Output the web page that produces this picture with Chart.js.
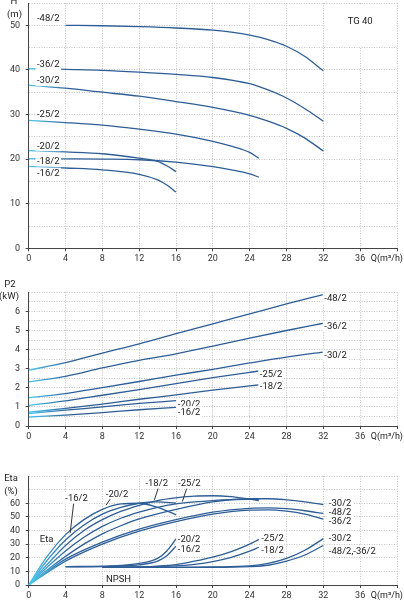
<!DOCTYPE html>
<html><head><meta charset="utf-8">
<script src="https://cdn.jsdelivr.net/npm/chart.js@4.4.0/dist/chart.umd.min.js"></script>
<style>
html,body{margin:0;padding:0;background:#fff;width:404px;height:600px;overflow:hidden;position:relative}
canvas{position:absolute;left:0}
</style></head><body>
<canvas id="c1" width="404" height="265" style="top:0;width:404px;height:265px"></canvas>
<canvas id="c2" width="404" height="170" style="top:280px;width:404px;height:170px"></canvas>
<canvas id="c3" width="404" height="150" style="top:450px;width:404px;height:150px"></canvas>
<script>
// ---------- DATA ----------
const qMin = 0, qMax = 40, qStep = 4;
const qAxisTitle = 'Q(m³/h)';

// H (m)
const h48Q = [4,8,12,16,20,24,26,28,30,32];
const h48  = [50.0,49.9,49.7,49.4,48.9,47.8,46.8,45.3,43.0,39.8];
const h36Q = [0,4,8,12,16,20,24,26,28,30,32];
const h36  = [40.3,40.1,39.9,39.5,39.0,38.3,36.9,35.5,33.7,31.3,28.5];
const h30Q = [0,4,8,12,16,20,24,26,28,30,32];
const h30  = [36.6,35.9,35.0,34.1,32.9,31.6,29.8,28.5,26.9,24.7,21.8];
const h25Q = [0,4,8,12,16,20,22,24,25];
const h25  = [28.7,28.2,27.6,26.7,25.6,24.0,22.9,21.5,20.2];
const h20Q = [0,4,8,12,14,15,16];
const h20  = [21.9,21.6,21.2,20.2,19.5,18.5,17.2];
const h18Q = [0,4,8,12,16,20,22,24,25];
const h18  = [20.1,20.05,20.0,19.85,19.3,18.3,17.6,16.7,15.95];
const h16Q = [0,4,8,12,14,15,16];
const h16  = [18.35,18.0,17.6,16.6,15.35,14.2,12.6];

// P2 (kW)
const p48Q = [0,4,8,12,16,20,24,28,32];
const p48  = [2.92,3.32,3.82,4.30,4.83,5.35,5.87,6.39,6.88];
const p36Q = [0,4,8,12,16,20,24,28,32];
const p36  = [2.31,2.60,3.04,3.44,3.78,4.18,4.60,5.00,5.38];
const p30Q = [0,4,8,12,16,20,24,28,32];
const p30  = [1.48,1.70,2.01,2.33,2.66,2.97,3.30,3.61,3.87];
const p25Q = [0,4,8,12,16,20,24,25];
const p25  = [1.08,1.32,1.61,1.91,2.22,2.53,2.81,2.88];
const p18Q = [0,4,8,12,16,20,24,25];
const p18  = [0.72,0.92,1.15,1.40,1.63,1.88,2.10,2.15];
const p20Q = [0,4,8,12,16];
const p20  = [0.65,0.83,1.00,1.18,1.33];
const p16Q = [0,4,8,12,16];
const p16  = [0.47,0.57,0.70,0.85,0.98];

// Eta (%)
const e16Q = [0,2,4,6,8,10,12,14,16];
const e16  = [0,21,37,48,55.5,59.5,60,57,51.5];
const e20Q = [0,2,4,6,8,10,12,14,16];
const e20  = [0,18,33,44,52,57,60,61,60];
const e18Q = [0,2,4,6,8,10,12,14,16,18,20,22,24,25];
const e18  = [0,15,29,40,48,54,58.5,62,64,65.3,65.5,64.8,63,62];
const e25Q = [0,2,4,6,8,10,12,14,16,18,20,22,24,25];
const e25  = [0,13,25,35,43,49,53.5,57,59.5,61,62,62.6,62.8,62.8];
const e30Q = [0,2,4,6,8,10,12,16,20,24,26,28,30,32];
const e30  = [0,11,21,30,37.5,43.5,48.5,55.5,61,63.3,63.3,62.5,61,59];
const e48Q = [0,4,8,12,16,20,24,26,28,30,32];
const e48  = [0,19,31.5,41,48,53.5,56.3,56.6,56,54.5,52.5];
const e36Q = [0,4,8,12,16,20,24,26,28,30,32];
const e36  = [0,17.5,30,39.5,46.5,52,55,55.2,54.2,52,48.3];

// NPSH (m)
const n20Q = [4,8,10,12,14,15,16];
const n20  = [13.5,13.8,14.3,15.8,19.5,25,33.8];
const n16Q = [4,8,10,12,14,15,16];
const n16  = [13.3,13.5,14,14.8,17.5,21.5,28.5];
const n25Q = [8,12,16,18,20,22,24,25];
const n25  = [13,13.3,15,17.5,20.5,24.5,30,33.5];
const n18Q = [8,12,16,18,20,22,24,25];
const n18  = [13,13.2,14,15.2,17.2,20.3,24.8,27.7];
const n30Q = [8,12,16,20,24,26,28,30,32];
const n30  = [13,13,13,13.2,14,15.8,19.5,25.5,34];
const n4836Q = [8,12,16,20,24,26,28,30,32];
const n4836  = [13,13,13,13,13.5,14.5,17.5,22,29];

// ---------- STYLE / HELPERS ----------
Chart.defaults.font.family = 'Roboto, "Noto Sans", sans-serif';
Chart.defaults.font.size = 9;
Chart.defaults.color = '#333';
const DARK = '#2c5d97';
const GRID = '#c2c2c2';
const AXIS = '#444';

function lineGrad(chart){
  const a = chart.chartArea;
  if(!a) return DARK;
  const g = chart.ctx.createLinearGradient(a.left,0,a.left+42,0);
  g.addColorStop(0,'#4cc9f2');
  g.addColorStop(1,DARK);
  return g;
}
function series(q,v){
  return {
    data: q.map((x,i)=>({x:x,y:v[i]})),
    borderColor: c=>lineGrad(c.chart),
    borderWidth: 1.3,
    pointRadius: 0,
    fill: false,
    cubicInterpolationMode: 'monotone'
  };
}
function notesPlugin(opt){
  return {
    id:'notes',
    beforeDatasetsDraw(chart){
      if(!opt.box) return;
      const {x,y} = chart.scales; const ctx = chart.ctx;
      const b = opt.box;
      const x1 = x.getPixelForValue(b[0])+1, x2 = x.getPixelForValue(b[2])-1;
      const y1 = y.getPixelForValue(b[3])+1, y2 = y.getPixelForValue(b[1])-1;
      ctx.save(); ctx.fillStyle='#fff'; ctx.fillRect(x1,y1,x2-x1,y2-y1); ctx.restore();
    },
    afterDatasetsDraw(chart){
      const {x,y} = chart.scales; const ctx = chart.ctx;
      ctx.save();
      (opt.leaders||[]).forEach(l=>{
        ctx.strokeStyle='#333'; ctx.lineWidth=1;
        ctx.beginPath();
        ctx.moveTo(x.getPixelForValue(l[0]),y.getPixelForValue(l[1]));
        ctx.lineTo(x.getPixelForValue(l[2]),y.getPixelForValue(l[3]));
        ctx.stroke();
      });
      ctx.font = '9.5px Roboto, "Noto Sans", sans-serif';
      ctx.textBaseline='middle';
      (opt.labels||[]).forEach(l=>{
        const px = x.getPixelForValue(l.x), py = y.getPixelForValue(l.y);
        const w = ctx.measureText(l.t).width;
        const left = l.a==='center' ? px-w/2 : px;
        if(l.bg!==false){ ctx.fillStyle='#fff'; ctx.fillRect(left-1.5,py-5.5,w+3,11); }
        ctx.fillStyle='#222'; ctx.textAlign='left';
        ctx.fillText(l.t,left,py+0.5);
      });
      ctx.restore();
    },
    afterDraw(chart){
      const ctx = chart.ctx;
      ctx.save();
      ctx.fillStyle='#222'; ctx.textBaseline='middle';
      (opt.titles||[]).forEach(t=>{
        ctx.font = (t.s||9.5)+'px Roboto, "Noto Sans", sans-serif';
        ctx.textAlign = t.a||'center';
        ctx.fillText(t.t,t.x,t.y);
      });
      ctx.restore();
    }
  };
}
function isInt(v){return Math.abs(v-Math.round(v))<1e-6;}

function makeChart(id, o){
  return new Chart(document.getElementById(id), {
    type:'line',
    data:{datasets:o.series},
    options:{
      responsive:false, animation:false, events:[],
      layout:{padding:{top:o.padTop,right:7,left:0,bottom:0}},
      plugins:{legend:{display:false},tooltip:{enabled:false}},
      scales:{
        x:{type:'linear',min:qMin,max:qMax,
          ticks:{stepSize:qStep,autoSkip:false,maxRotation:0,padding:2.5,
            callback:v=> v<qMax ? String(v) : ''},
          grid:{color:c=> c.tick && c.tick.value===0 ? 'rgba(0,0,0,0)' : GRID,lineWidth:1,tickLength:3,tickColor:AXIS},
          border:{display:true,color:AXIS,width:1,dash:[1,1.5]},
          afterFit:s=>{s.height=o.xAxisH;s.paddingLeft=0;s.paddingRight=0;}
        },
        y:{type:'linear',min:0,max:o.yMax,
          ticks:{stepSize:o.yStep,autoSkip:false,padding:5.7,callback:o.yLabel},
          grid:{color:c=> c.tick && c.tick.value===0 ? 'rgba(0,0,0,0)' : GRID,lineWidth:1,tickLength:3,
            tickColor:c=> c.tick && o.yLabel(c.tick.value)!=='' ? AXIS : 'rgba(0,0,0,0)'},
          border:{display:true,color:AXIS,width:1,dash:[1,1.5]},
          afterFit:s=>{s.width=28.7;s.paddingTop=0;s.paddingBottom=0;}
        }
      }
    },
    plugins:[notesPlugin(o.notes)]
  });
}

// ---------- CHART 1 : H ----------
makeChart('c1',{
  yMax:55, yStep:5, padTop:3, xAxisH:16.7,
  yLabel:v=> (v%10===0) ? String(v) : '',
  series:[series(h48Q,h48),series(h36Q,h36),series(h30Q,h30),series(h25Q,h25),
          series(h20Q,h20),series(h18Q,h18),series(h16Q,h16)],
  notes:{
    box:[32,45,40,55],
    labels:[
      {x:0.9,y:51.6,t:'-48/2'},{x:0.9,y:41.2,t:'-36/2'},{x:0.9,y:37.6,t:'-30/2'},
      {x:0.9,y:30.0,t:'-25/2'},{x:0.9,y:23.0,t:'-20/2'},{x:0.9,y:19.6,t:'-18/2'},
      {x:0.9,y:16.85,t:'-16/2'},
      {x:36,y:50.9,t:'TG 40',a:'center',bg:false}
    ],
    titles:[
      {t:'H',x:14,y:1.5},{t:'(m)',x:14.5,y:15},
      {t:qAxisTitle,x:403,y:258.5,a:'right',s:9}
    ]
  }
});

// ---------- CHART 2 : P2 ----------
makeChart('c2',{
  yMax:7, yStep:0.5, padTop:12.3, xAxisH:24,
  yLabel:v=> (isInt(v) && v<7) ? String(Math.round(v)) : '',
  series:[series(p48Q,p48),series(p36Q,p36),series(p30Q,p30),series(p25Q,p25),
          series(p18Q,p18),series(p20Q,p20),series(p16Q,p16)],
  notes:{
    labels:[
      {x:32.1,y:6.7,t:'-48/2'},{x:32.1,y:5.22,t:'-36/2'},{x:32.1,y:3.7,t:'-30/2'},
      {x:25.1,y:2.71,t:'-25/2'},{x:25.1,y:2.08,t:'-18/2'},
      {x:16.2,y:1.15,t:'-20/2'},{x:16.2,y:0.75,t:'-16/2'}
    ],
    titles:[
      {t:'P2',x:10,y:5},{t:'(kW)',x:9,y:16.7},
      {t:qAxisTitle,x:403,y:156.7,a:'right',s:9}
    ]
  }
});

// ---------- CHART 3 : Eta / NPSH ----------
makeChart('c3',{
  yMax:80, yStep:10, padTop:26, xAxisH:15,
  yLabel:v=> (v<=60) ? String(v) : '',
  series:[series(e16Q,e16),series(e20Q,e20),series(e18Q,e18),series(e25Q,e25),
          series(e30Q,e30),series(e48Q,e48),series(e36Q,e36),
          series(n20Q,n20),series(n16Q,n16),series(n25Q,n25),series(n18Q,n18),
          series(n30Q,n30),series(n4836Q,n4836)],
  notes:{
    leaders:[[4.9,61.2,4.5,38],[9.0,64.5,8.4,58.6],[14.1,71.8,13.65,62.5],[17.2,71.8,16.7,61.3]],
    labels:[
      {x:5.2,y:63.7,t:'-16/2',a:'center'},{x:9.6,y:67,t:'-20/2',a:'center'},
      {x:13.9,y:74.8,t:'-18/2',a:'center'},{x:17.45,y:74.8,t:'-25/2',a:'center'},
      {x:32.6,y:60,t:'-30/2'},{x:32.6,y:53.4,t:'-48/2'},{x:32.6,y:47,t:'-36/2'},
      {x:32.6,y:34.3,t:'-30/2'},{x:32.6,y:25.2,t:'-48/2,-36/2'},
      {x:25.25,y:34.3,t:'-25/2'},{x:25.25,y:25.5,t:'-18/2'},
      {x:16.2,y:33.6,t:'-20/2'},{x:16.2,y:26.5,t:'-16/2'},
      {x:1.95,y:33.4,t:'Eta',a:'center',bg:false},{x:9.75,y:4.5,t:'NPSH',a:'center',bg:false}
    ],
    titles:[
      {t:'Eta',x:11,y:28.5},{t:'(%)',x:11,y:41.7},
      {t:qAxisTitle,x:403,y:145.7,a:'right',s:9}
    ]
  }
});
</script>
</body></html>
